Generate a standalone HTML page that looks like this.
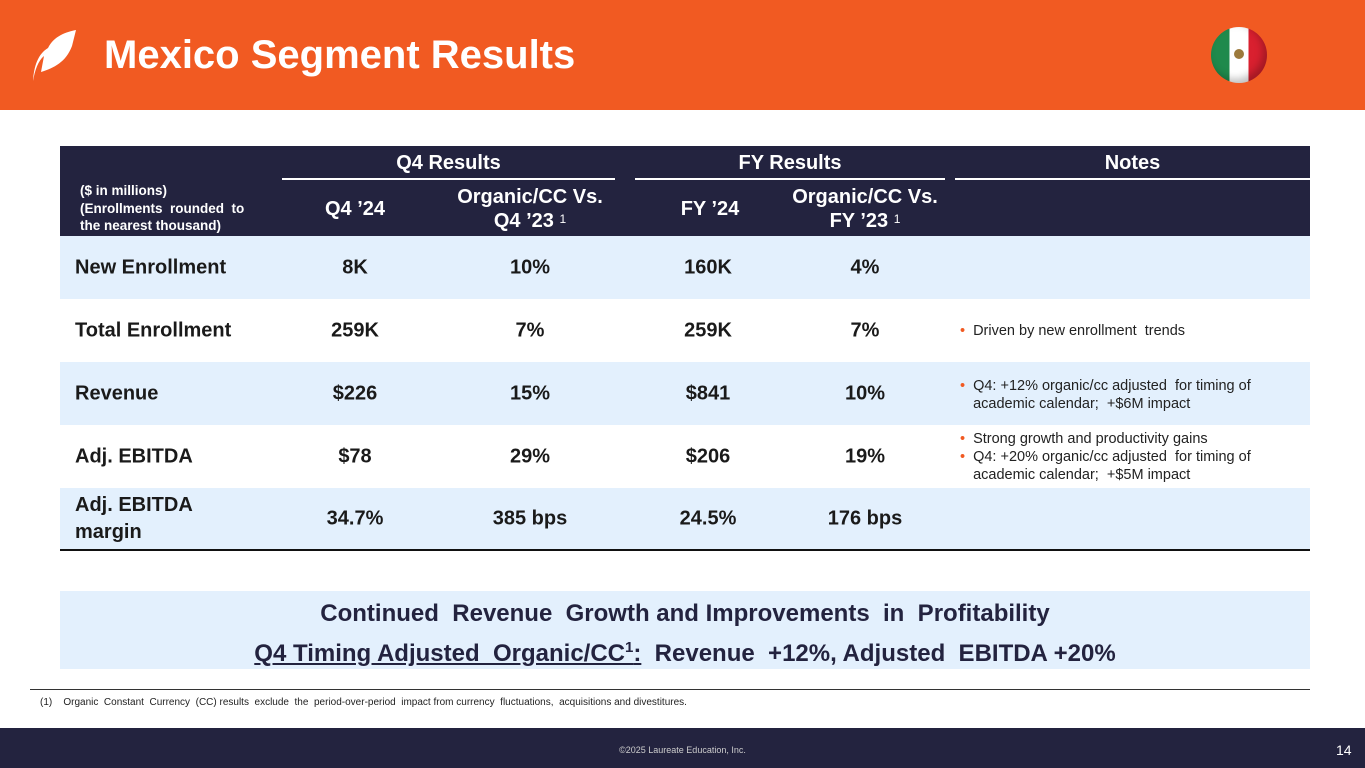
<!DOCTYPE html>
<html><head><meta charset="utf-8"><style>
body{margin:0;width:1365px;height:768px;position:relative;overflow:hidden;background:#fff;font-family:Arial,"Liberation Sans",Helvetica,sans-serif;}
.a{position:absolute}
.hdr{color:#fff;font-weight:bold;font-size:20px;text-align:center;line-height:22px}
.c{position:absolute;font-weight:bold;font-size:20px;color:#1a1a1a;text-align:center;transform:translateY(-50%)}
.row{position:absolute;left:60px;width:1250px;height:63px}
.note{position:absolute;left:960px;font-size:14.5px;color:#222;line-height:18px}
.note span{color:#F15A22;margin-right:8px}
</style></head><body>
<div class="a" style="left:0;top:0;width:1365px;height:110px;background:#F15A22"></div>
<svg class="a" style="left:30px;top:28px" width="58" height="56" viewBox="0 0 58 56"><path d="M3 53 C5 42 8 33 14 28 L11 44 C24 40 36 34 42 18 L46 2 C36 4 24 8 18 20 C8 26 4 38 3 53 Z" fill="#fff"/></svg>
<div class="a" style="left:104px;top:32px;font-size:40px;font-weight:bold;color:#fff;line-height:46px">Mexico Segment Results</div>
<div class="a" style="left:1211px;top:27px;width:56px;height:56px;border-radius:50%;overflow:hidden;background:linear-gradient(90deg,#1f8a4c 0 33%,#fff 33% 67%,#d9202f 67%);box-shadow:inset -4px -4px 8px rgba(0,0,0,.25)"><div style="position:absolute;left:23px;top:22px;width:10px;height:10px;border-radius:50%;background:#9c7a3c"></div></div>

<div class="a" style="left:60px;top:146px;width:1250px;height:90px;background:#23233F"></div>
<div class="a hdr" style="left:282px;top:152px;width:333px">Q4 Results</div>
<div class="a" style="left:282px;top:178px;width:333px;height:2px;background:#fff"></div>
<div class="a hdr" style="left:635px;top:152px;width:310px">FY Results</div>
<div class="a" style="left:635px;top:178px;width:310px;height:2px;background:#fff"></div>
<div class="a hdr" style="left:955px;top:152px;width:355px">Notes</div>
<div class="a" style="left:955px;top:178px;width:355px;height:2px;background:#fff"></div>
<div class="a" style="left:80px;top:182px;color:#fff;font-weight:bold;font-size:13.5px;line-height:17.5px">($ in millions)<br>(Enrollments&nbsp; rounded&nbsp; to<br>the nearest thousand)</div>
<div class="a hdr" style="left:290px;top:198px;width:130px">Q4 ’24</div>
<div class="a hdr" style="left:430px;top:186px;width:200px">Organic/CC Vs.<br>Q4 ’23 <span style="font-size:12px;font-weight:normal;vertical-align:4px">1</span></div>
<div class="a hdr" style="left:645px;top:198px;width:130px">FY ’24</div>
<div class="a hdr" style="left:765px;top:186px;width:200px">Organic/CC Vs.<br>FY ’23 <span style="font-size:12px;font-weight:normal;vertical-align:4px">1</span></div>

<div class="row" style="top:236px;background:#E3F0FD"></div>
<div class="row" style="top:362px;background:#E3F0FD"></div>
<div class="row" style="top:488px;background:#E3F0FD;height:62px"></div>
<div class="a" style="left:60px;top:549px;width:1250px;height:2px;background:#111"></div>

<div id="rows"></div>

<div class="note" style="top:322px"><span>•</span>Driven by new enrollment&nbsp; trends</div>
<div class="note" style="top:377px"><span>•</span>Q4: +12% organic/cc adjusted&nbsp; for timing of<br><span style="visibility:hidden">•</span>academic calendar;&nbsp; +$6M impact</div>
<div class="note" style="top:430px"><span>•</span>Strong growth and productivity gains<br><span>•</span>Q4: +20% organic/cc adjusted&nbsp; for timing of<br><span style="visibility:hidden">•</span>academic calendar;&nbsp; +$5M impact</div>

<div class="a" style="left:60px;top:591px;width:1250px;height:78px;background:#E3F0FD;text-align:center;font-weight:bold;font-size:24px;color:#23233F;line-height:34px;padding-top:6px;box-sizing:border-box">Continued&nbsp; Revenue&nbsp; Growth and Improvements&nbsp; in&nbsp; Profitability<br><u>Q4 Timing Adjusted&nbsp; Organic/CC<span style="font-size:15px;vertical-align:9px">1</span>:</u>&nbsp; Revenue&nbsp; +12%, Adjusted&nbsp; EBITDA +20%</div>
<div class="a" style="left:30px;top:689px;width:1280px;height:1px;background:#333"></div>
<div class="a" style="left:40px;top:697px;font-size:10px;color:#222">(1)&nbsp;&nbsp;&nbsp; Organic&nbsp; Constant&nbsp; Currency&nbsp; (CC) results&nbsp; exclude&nbsp; the&nbsp; period-over-period&nbsp; impact from currency&nbsp; fluctuations,&nbsp; acquisitions and divestitures.</div>
<div class="a" style="left:0;top:728px;width:1365px;height:40px;background:#23233F"></div>
<div class="a" style="left:0;top:745px;width:1365px;text-align:center;color:#ccc;font-size:9px">©2025 Laureate Education, Inc.</div>
<div class="a" style="left:1336px;top:742px;color:#fff;font-size:14px">14</div>

<script>
const labels=["New Enrollment","Total Enrollment","Revenue","Adj. EBITDA","Adj. EBITDA<br>margin"];
const q4=["8K","259K","$226","$78","34.7%"];
const q4org=["10%","7%","15%","29%","385 bps"];
const fy=["160K","259K","$841","$206","24.5%"];
const fyorg=["4%","7%","10%","19%","176 bps"];
const host=document.getElementById('rows');
const cols=[[q4,355],[q4org,530],[fy,708],[fyorg,865]];
labels.forEach((l,i)=>{
  const cy=268+i*63-(i==4?1:0);
  const d=document.createElement('div');
  d.className='c';d.style.left='75px';d.style.top=cy+'px';d.style.textAlign='left';d.style.lineHeight='27px';d.innerHTML=l;
  
  
  host.appendChild(d);
  cols.forEach(([arr,x])=>{
    const e=document.createElement('div');
    e.className='c';e.style.left=(x-80)+'px';e.style.width='160px';e.style.top=cy+'px';e.textContent=arr[i];
    
    
    host.appendChild(e);
  });
});
</script>
</body></html>
